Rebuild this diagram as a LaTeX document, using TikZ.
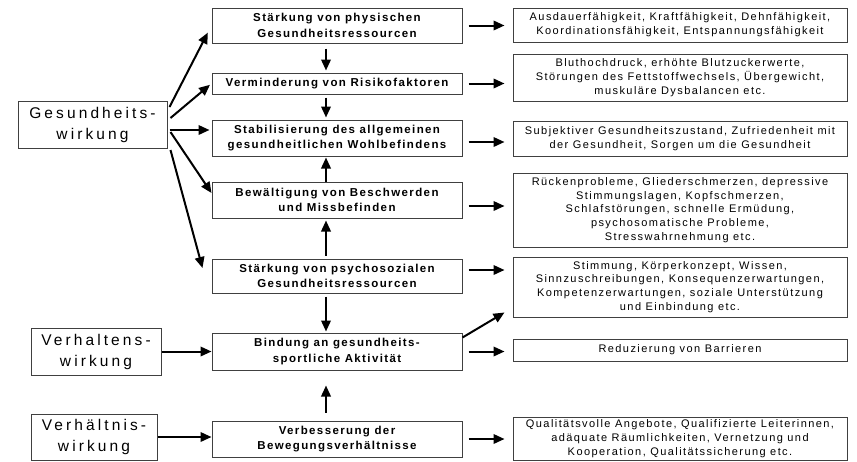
\documentclass[tikz,border=0pt]{standalone}
\usepackage{fontspec}
\setmainfont{Liberation Sans}
\newfontfamily\leftfont[LetterSpace=20]{Liberation Sans}
\newfontfamily\midfont[LetterSpace=12]{Liberation Sans}
\newfontfamily\rightfont[LetterSpace=13]{Liberation Sans}
\usetikzlibrary{arrows.meta}

\begin{document}
\begin{tikzpicture}[x=1pt,y=-1pt,
  box/.style={draw=black!75, line width=1pt, inner sep=0pt, align=center},
  wirk/.style={box, font=\fontsize{15.5}{21}\leftfont},
  mid/.style={box, minimum width=250pt, font=\fontsize{11.5}{15.5}\midfont\bfseries},
  info/.style={box, minimum width=334pt, font=\fontsize{11}{13.8}\rightfont},
  arr/.style={-{Triangle[length=11pt,width=9.5pt]}, line width=2pt}]

\useasboundingbox (0,0) rectangle (857,461);

% Wirkungen (left)
\node[wirk, minimum width=149pt, minimum height=47pt] (gw) at (92.5,124.5) {Gesundheits-\\wirkung};
\node[wirk, minimum width=130pt, minimum height=47pt] (vw) at (96,351.5) {Verhaltens-\\wirkung};
\node[wirk, minimum width=126pt, minimum height=46pt] (vnw) at (94,437) {Verhältnis-\\wirkung};

% Ziele (middle)
\node[mid, minimum height=35pt] (b1) at (337,25.5) {Stärkung von physischen\\Gesundheitsressourcen};
\node[mid, minimum height=21pt] (b2) at (337,83.5) {Verminderung von Risikofaktoren};
\node[mid, minimum height=36pt] (b3) at (337,138) {Stabilisierung des allgemeinen\\gesundheitlichen Wohlbefindens};
\node[mid, minimum height=36pt] (b4) at (337,200) {Bewältigung von Beschwerden\\und Missbefinden};
\node[mid, minimum height=34pt] (b5) at (337,276) {Stärkung von psychosozialen\\Gesundheitsressourcen};
\node[mid, minimum height=37pt] (b6) at (337,351.5) {Bindung an gesundheits-\\sportliche Aktivität};
\node[mid, minimum height=36pt] (b7) at (337,439) {Verbesserung der\\Bewegungsverhältnisse};

% Beispiele (right)
\node[info, minimum height=34pt] (r1) at (680,25) {Ausdauerfähigkeit, Kraftfähigkeit, Dehnfähigkeit,\\Koordinationsfähigkeit, Entspannungsfähigkeit};
\node[info, minimum height=47pt] (r2) at (680,77.5) {Bluthochdruck, erhöhte Blutzuckerwerte,\\Störungen des Fettstoffwechsels, Übergewicht,\\muskuläre Dysbalancen etc.};
\node[info, minimum height=35pt] (r3) at (680,138.5) {Subjektiver Gesundheitszustand, Zufriedenheit mit\\der Gesundheit, Sorgen um die Gesundheit};
\node[info, minimum height=74pt] (r4) at (680,210) {Rückenprobleme, Gliederschmerzen, depressive\\Stimmungslagen, Kopfschmerzen,\\Schlafstörungen, schnelle Ermüdung,\\psychosomatische Probleme,\\Stresswahrnehmung etc.};
\node[info, minimum height=60pt] (r5) at (680,287) {Stimmung, Körperkonzept, Wissen,\\Sinnzuschreibungen, Konsequenzerwartungen,\\Kompetenzerwartungen, soziale Unterstützung\\und Einbindung etc.};
\node[info, minimum height=22pt] (r6) at (680,350) {Reduzierung von Barrieren};
\node[info, minimum height=43pt] (r7) at (680,438.5) {Qualitätsvolle Angebote, Qualifizierte Leiterinnen,\\adäquate Räumlichkeiten, Vernetzung und\\Kooperation, Qualitätssicherung etc.};

% Gesundheitswirkung fans out
\draw[arr, shorten >=8pt] ([xshift=2pt,yshift=17.5pt]gw.east) -- (b1.west);
\draw[arr, shorten >=2pt] ([xshift=3pt,yshift=6.5pt]gw.east) -- (b2.west);
\draw[arr, shorten >=2pt] ([xshift=2pt,yshift=-5.5pt]gw.east) -- ([yshift=8pt]b3.west);
\draw[arr] ([xshift=3pt,yshift=-7.5pt]gw.east) -- ([yshift=7pt]b4.west);
\draw[arr] ([xshift=3pt,yshift=-25.5pt]gw.east) -- ([xshift=-9pt,yshift=8pt]b5.west);

% Verhaltens- and Verhaeltniswirkung
\draw[arr] (vw.east) -- (vw.east -| b6.west);
\draw[arr] (vnw.east) -- (vnw.east -| b7.west);

% vertical links in the middle column
\coordinate (axis) at (326,0);
\draw[arr, shorten <=5pt, shorten >=2pt] (b1.south -| axis) -- (b2.north -| axis);
\draw[arr, shorten <=3pt, shorten >=2pt] (b2.south -| axis) -- (b3.north -| axis);
\draw[arr, shorten >=1pt] (b4.north -| axis) -- (b3.south -| axis);
\draw[arr, shorten <=3pt, shorten >=2pt] (b5.north -| axis) -- (b4.south -| axis);
\draw[arr, shorten <=3pt, shorten >=1pt] (b5.south -| axis) -- (b6.north -| axis);
\draw[arr, shorten <=8pt, shorten >=15pt] (b7.north -| axis) -- (b6.south -| axis);

% middle to right
\foreach \i in {1,2,6,7}
{
    \draw[arr, shorten <=6pt, shorten >=8pt] (b\i.east) -- (b\i.east -| r\i.west);
}
\draw[arr, shorten <=6pt, shorten >=8pt] ([yshift=-4pt]b3.east) -- ([yshift=-4pt]b3.east -| r3.west);
\draw[arr, shorten <=6pt, shorten >=8pt] ([yshift=-6pt]b4.east) -- ([yshift=-6pt]b4.east -| r4.west);
\draw[arr, shorten <=6pt, shorten >=8pt] ([yshift=6pt]b5.east) -- ([yshift=6pt]b5.east -| r5.west);
\draw[arr] ([yshift=-5pt]b6.north east) -- ([xshift=-8pt,yshift=5pt]r5.south west);

\end{tikzpicture}
\end{document}
